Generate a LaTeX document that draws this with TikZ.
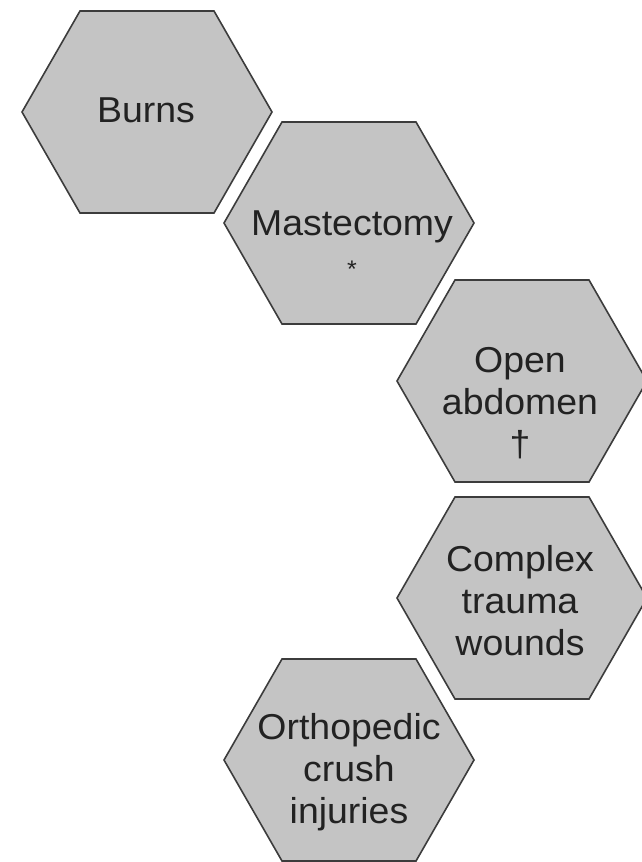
\documentclass[tikz,border=0pt]{standalone}
\usepackage{fontspec}
\setmainfont{Liberation Sans}
\definecolor{hexfill}{HTML}{C4C4C4}
\definecolor{hexline}{HTML}{3C3C3C}
\definecolor{txt}{HTML}{222222}
\tikzset{
  hexa/.style={fill=hexfill, draw=hexline, line width=1.6pt, line join=miter},
  lbl/.style={anchor=base, inner sep=0pt, align=center, text=txt,
    font=\fontsize{36}{42}\selectfont, xscale=1.04}
}
\newcommand{\hexat}[3]{% name, cx, cy
  \path[hexa] (#2-125,#3) -- (#2-67,#3-101) -- (#2+67,#3-101) -- (#2+125,#3)
    -- (#2+67,#3+101) -- (#2-67,#3+101) -- cycle;
  \coordinate (#1) at (#2,#3);
}
\begin{document}
\begin{tikzpicture}[x=1pt,y=-1pt]
\useasboundingbox (0,0) rectangle (642,862);
\hexat{hburns}{147}{112}
\hexat{hmast}{349}{223}
\hexat{hopen}{522}{381}
\hexat{hcomp}{522}{598}
\hexat{hortho}{349}{760}
% anchor=base refers to the baseline of the last line
\node[lbl] (burns) at (146,122) {Burns};
\node[lbl] (mast) at (352,277) {Mastectomy\\{\fontsize{24}{42}\selectfont *}};
\node[lbl] (open) at (520,456) {Open\\abdomen\\†};
\node[lbl] (comp) at (520,655) {Complex\\trauma\\wounds};
\node[lbl] (ortho) at (349,823) {Orthopedic\\crush\\injuries};
\end{tikzpicture}
\end{document}
